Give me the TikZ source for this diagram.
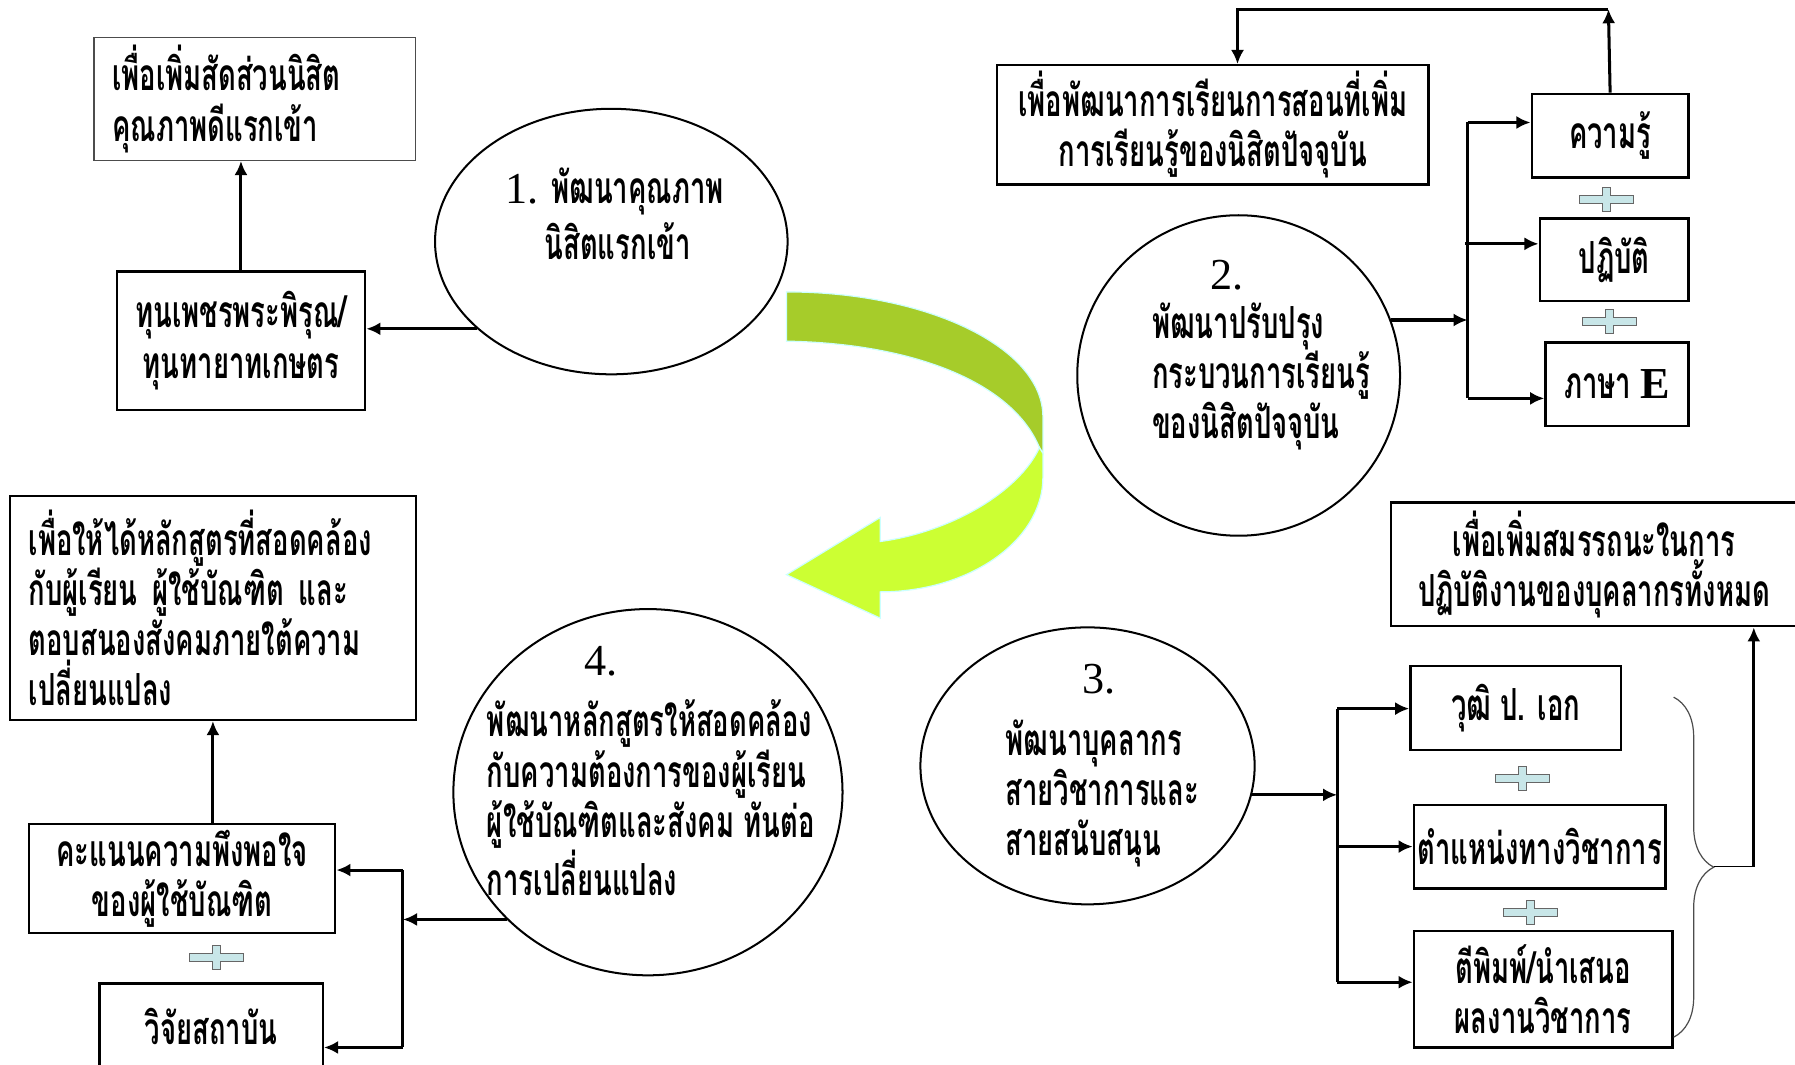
\documentclass[tikz,border=0pt]{standalone}
\usepackage{fontspec}
\setmainfont{Liberation Serif}
\newfontfamily\thaifont[Script=Thai,FakeStretch=0.62]{Loma}
\usepackage{tikz}
\usetikzlibrary{shapes.geometric, arrows, arrows.meta, positioning, calc, decorations.pathreplacing}

\definecolor{ribbondark}{RGB}{166,204,42}
\definecolor{ribbonlight}{RGB}{204,255,51}
\definecolor{ribbonedge}{RGB}{204,255,255}
\definecolor{plusfill}{RGB}{200,230,232}

\tikzstyle{thaitext} = [font=\thaifont\bfseries\fontsize{22}{25}\selectfont]
\tikzstyle{goal} = [rectangle, draw=black, line width=1.2pt, thaitext, align=center, inner sep=0pt]
\tikzstyle{goalthin} = [rectangle, draw=black!70, line width=0.7pt, thaitext, align=left, inner xsep=0.32cm, inner ysep=0pt]
\tikzstyle{itembox} = [rectangle, draw=black, line width=1.2pt, thaitext, align=center, inner sep=0pt]
\tikzstyle{strategy} = [ellipse, draw=black, line width=1pt, inner sep=0pt]
\tikzstyle{inside} = [thaitext, align=left, inner sep=0pt, anchor=west]
\tikzstyle{numlabel} = [font=\fontsize{22}{25}\selectfont, inner sep=0pt]
\tikzstyle{arrow} = [line width=1.5pt,->,>={Latex[length=7pt,width=6.5pt]}]
\tikzstyle{bus} = [line width=1.5pt]
\tikzset{plusmark/.pic={
  \draw[draw=black!60, fill=plusfill, line width=0.5pt]
    (-23.5,-3.5) -- (-3.5,-3.5) -- (-3.5,-10.5) -- (3.5,-10.5) -- (3.5,-3.5) -- (23.5,-3.5)
    -- (23.5,3.5) -- (3.5,3.5) -- (3.5,10.5) -- (-3.5,10.5) -- (-3.5,3.5) -- (-23.5,3.5) -- cycle;
}}

\begin{document}
\begin{tikzpicture}[x=0.02cm, y=-0.02cm]
\useasboundingbox (0,0) rectangle (1568,930);

% green ribbon arrow
\fill[ribbondark, draw=ribbonedge, line width=0.6pt] (687,255) .. controls (811,255) and (911,304) .. (911,364)
  -- (911,396) -- (908,391) .. controls (885,335) and (800,300) .. (687,298) -- cycle;
\fill[ribbonlight, draw=ribbonedge, line width=0.6pt] (908,391) .. controls (890,430) and (830,465) .. (769,473)
  -- (769,452) -- (687,502) -- (769,540) -- (769,517) .. controls (847,517) and (911,472) .. (911,417)
  -- (911,396) -- cycle;

% strategy 1
\node (c1) [strategy, minimum width=6.16cm, minimum height=4.64cm] at (534,211) {};
\node (c1text) [thaitext, align=center, inner sep=0pt] at (537,187) {{\rmfamily\mdseries 1.} พัฒนาคุณภาพ\\[0.1cm]\hspace{0.1cm}นิสิตแรกเข้า};
\node (goal1) [goalthin, text width=4.98cm, minimum height=2.14cm] at (222.5,86.5) {เพื่อเพิ่มสัดส่วนนิสิต\\คุณภาพดีแรกเข้า};
\node (fund) [goal, minimum width=4.34cm, minimum height=2.42cm] at (210.5,297.5) {ทุนเพชรพระพิรุณ/\\ทุนทายาทเกษตร};

% strategy 2
\node (c2) [strategy, minimum width=5.64cm, minimum height=5.6cm] at (1082,328) {};
\node (c2num) [numlabel] at (1072,240) {2.};
\node (c2text) [inside] at (1006,329) {พัฒนาปรับปรุง\\กระบวนการเรียนรู้\\ของนิสิตปัจจุบัน};
\node (goal2) [goal, minimum width=7.54cm, minimum height=2.08cm] at (1059.5,109) {เพื่อพัฒนาการเรียนการสอนที่เพิ่ม\\การเรียนรู้ของนิสิตปัจจุบัน};
\node (know) [itembox, minimum width=2.74cm, minimum height=1.46cm] at (1406.5,118.5) {ความรู้};
\node (practice) [itembox, minimum width=2.6cm, minimum height=1.44cm] at (1410,227) {ปฏิบัติ};
\node (lang) [itembox, minimum width=2.5cm, minimum height=1.46cm] at (1412.5,335.5) {ภาษา {\rmfamily\bfseries E}};
\pic at (1403,174) {plusmark};
\pic at (1406,281) {plusmark};

% strategy 3
\node (c3) [strategy, minimum width=5.84cm, minimum height=4.84cm] at (950,669) {};
\node (c3num) [numlabel] at (960,593) {3.};
\node (c3text) [inside] at (878,693) {พัฒนาบุคลากร\\สายวิชาการและ\\สายสนับสนุน};
\node (goal3) [goal, minimum width=7.1cm, minimum height=2.16cm] at (1392.5,493) {เพื่อเพิ่มสมรรถนะในการ\\ปฏิบัติงานของบุคลากรทั้งหมด};
\node (degree) [itembox, minimum width=3.68cm, minimum height=1.46cm] at (1324,618.5) {วุฒิ ป. เอก};
\node (position) [itembox, minimum width=4.4cm, minimum height=1.46cm] at (1345,739.5) {ตำแหน่งทางวิชาการ};
\node (publish) [itembox, minimum width=4.52cm, minimum height=2.04cm] at (1348,864) {ตีพิมพ์/นำเสนอ\\ผลงานวิชาการ};
\pic at (1330,680) {plusmark};
\pic at (1337,797) {plusmark};

% strategy 4
\node (c4) [strategy, minimum width=6.8cm, minimum height=6.4cm] at (566,692) {};
\node (c4num) [numlabel] at (525,578) {4.};
\node (c4text) [inside] at (425,697) {พัฒนาหลักสูตรให้สอดคล้อง\\กับความต้องการของผู้เรียน\\ผู้ใช้บัณฑิตและสังคม ทันต่อ\\การเปลี่ยนแปลง};
\node (goal4) [goalthin, draw=black, line width=1pt, text width=6.44cm, minimum height=3.92cm] at (186,531) {เพื่อให้ได้หลักสูตรที่สอดคล้อง\\กับผู้เรียน ผู้ใช้บัณฑิต และ\\ตอบสนองสังคมภายใต้ความ\\เปลี่ยนแปลง};
\node (score) [goal, line width=1pt, minimum width=5.36cm, minimum height=1.9cm] at (159,767.5) {คะแนนความพึงพอใจ\\ของผู้ใช้บัณฑิต};
\node (research) [goal, minimum width=3.9cm, minimum height=1.52cm] at (184.5,897) {วิจัยสถาบัน};
\pic at (189,836) {plusmark};

% bus points
\coordinate (loopR) at (1405,8);
\coordinate (loopL) at (1081,8);
\coordinate (bus2top) at (1282,107);
\coordinate (bus2mid) at (1280,213);
\coordinate (bus2bot) at (1282,348);
\coordinate (bus3top) at (1168,619);
\coordinate (bus3bot) at (1168,858);
\coordinate (bus4top) at (352,760);
\coordinate (bus4bot) at (352,915);
\coordinate (braceTop) at (1462,609);
\coordinate (braceBot) at (1462,906);
\coordinate (braceTip) at (1497,757);
\coordinate (riseBot) at (1532,757);

\draw [arrow] (c1.213) -- (c1.213 -| fund.east);
\draw [arrow] (fund.north) -- (fund.north |- goal1.south);

\draw [arrow] (know.north) -- (loopR);
\draw [arrow] (loopR) -- (loopL) -- (loopL |- goal2.north);
\draw [arrow] (c2.20) -- (c2.20 -| bus2top);
\draw [bus] (bus2top) -- (bus2bot);
\draw [arrow] (bus2top) -- (bus2top -| know.west);
\draw [arrow] (bus2mid) -- (bus2mid -| practice.west);
\draw [arrow] (bus2bot) -- (bus2bot -| lang.west);

\draw [arrow] (c3.-10) -- (c3.-10 -| bus3top);
\draw [bus] (bus3top) -- (bus3bot);
\draw [arrow] (bus3top) -- (bus3top -| degree.west);
\draw [arrow] (bus3top |- position.west) -- (position.west);
\draw [arrow] (bus3bot) -- (bus3bot -| publish.west);
\draw [decorate, decoration={brace, amplitude=0.7cm}, draw=black!70, line width=0.6pt] (braceTop) -- (braceBot);
\draw [line width=0.8pt] (braceTip) -- (riseBot);
\draw [arrow] (riseBot) -- (riseBot |- goal3.south);

\draw [arrow] (c4.222) -- (c4.222 -| bus4top);
\draw [bus] (bus4top) -- (bus4bot);
\draw [arrow] (bus4top) -- (bus4top -| score.east);
\draw [arrow] (bus4bot) -- (bus4bot -| research.east);
\draw [arrow] (goal4.south |- score.north) -- (goal4.south);
\end{tikzpicture}
\end{document}
